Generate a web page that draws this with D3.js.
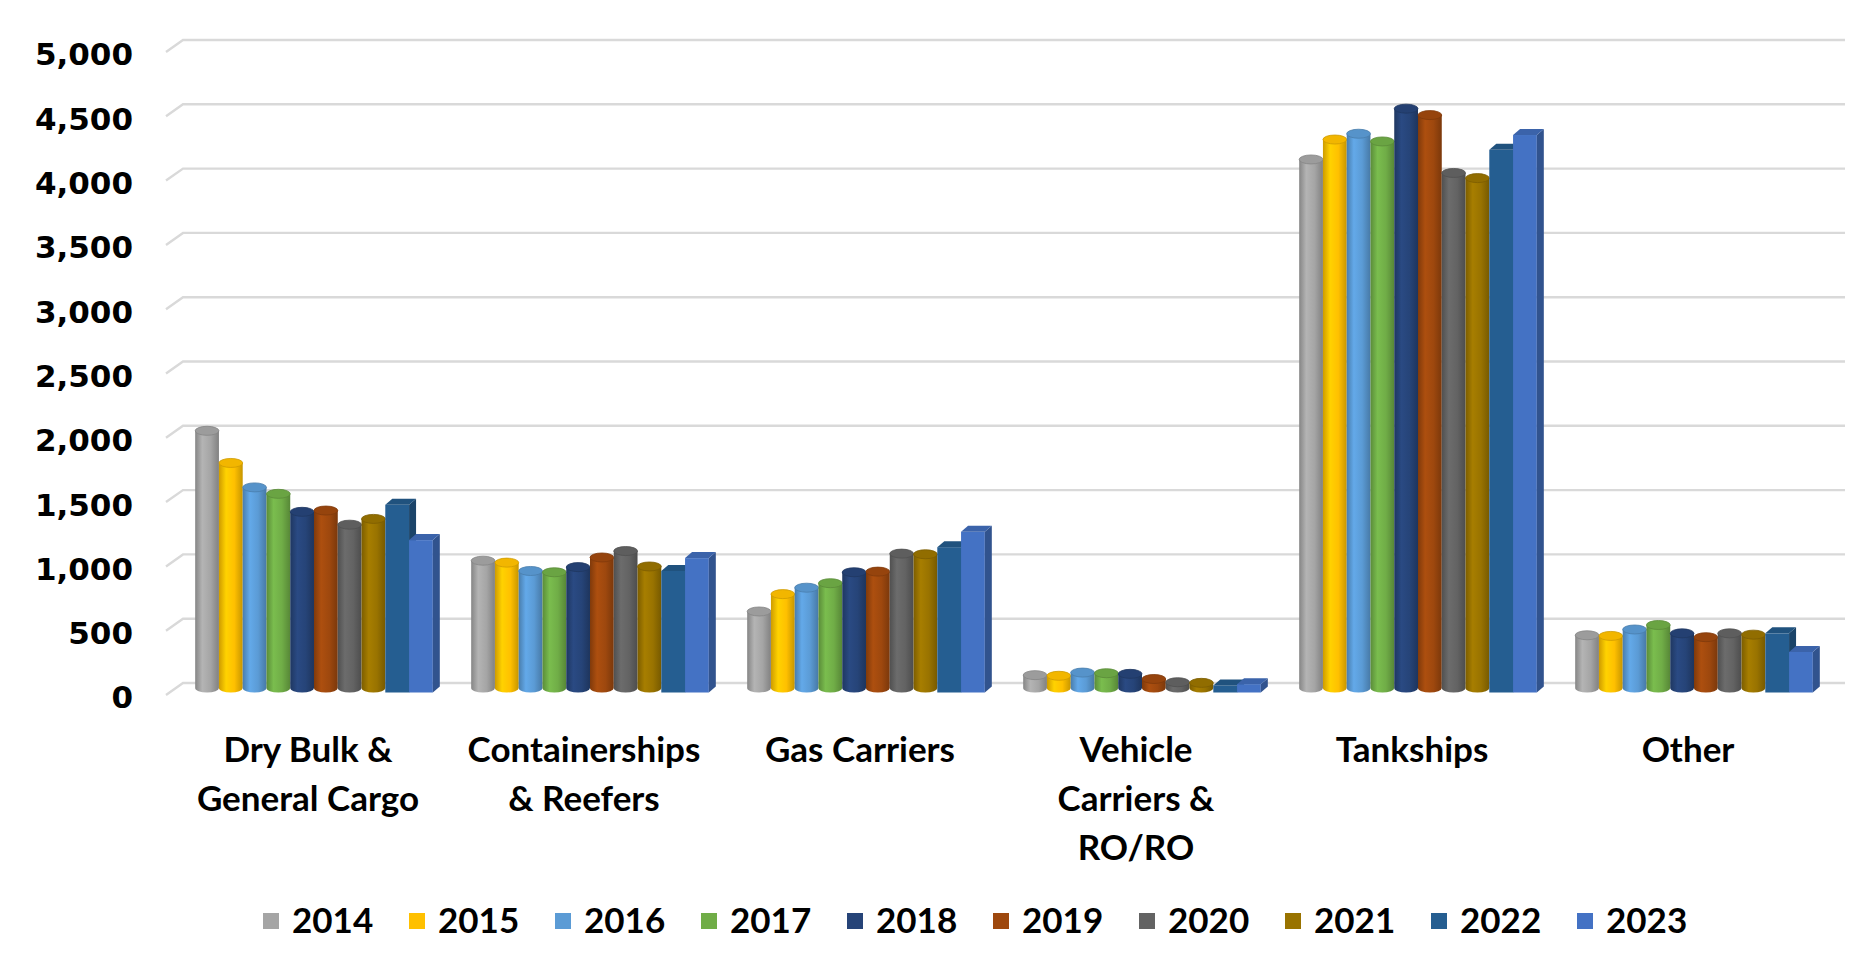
<!DOCTYPE html>
<html>
<head>
<meta charset="utf-8">
<script src="https://cdn.jsdelivr.net/npm/d3@7"></script>
<style>
	body { margin: 0; background: #fff; }
	svg { display: block; }
</style>
</head>
<body>
<svg id="chart"></svg>
<script>

// categories (label lines) and years
const categories = ["Dry Bulk & General Cargo", "Containerships & Reefers", "Gas Carriers", "Vehicle Carriers & RO/RO", "Tankships", "Other"];
const categoryLines = [["Dry Bulk &", "General Cargo"], ["Containerships", "& Reefers"], ["Gas Carriers"], ["Vehicle", "Carriers &", "RO/RO"], ["Tankships"], ["Other"]];
const years = ["2014", "2015", "2016", "2017", "2018", "2019", "2020", "2021", "2022", "2023"];
const colors = ["#A5A5A5", "#FFC000", "#5B9BD5", "#70AD47", "#264478", "#9E480E", "#636363", "#997300", "#255E91", "#4472C4"];
const boxYears = ["2022", "2023"];   // drawn as boxes, the rest as cylinders

// values per category, 2014..2023
const dryBulk    = [2000, 1750, 1560, 1510, 1370, 1380, 1270, 1315, 1460, 1185];
const containers = [990, 975, 910, 900, 940, 1015, 1065, 945, 945, 1045];
const gasCarriers = [595, 730, 780, 815, 900, 905, 1045, 1040, 1130, 1250];
const vehicle    = [100, 95, 120, 115, 110, 70, 45, 40, 55, 65];
const tankships  = [4110, 4265, 4310, 4250, 4505, 4455, 4005, 3965, 4220, 4335];
const other      = [410, 405, 455, 490, 425, 395, 425, 415, 460, 315];

const yTicks = [0, 500, 1000, 1500, 2000, 2500, 3000, 3500, 4000, 4500, 5000];

const seriesByCategory = [dryBulk, containers, gasCarriers, vehicle, tankships, other];

var width = 1855,
	height = 980;

var svg = d3.select("#chart")
	.attr("width", width)
	.attr("height", height);

// 3d offsets
const depthX = 17, depthY = 12;       // front edge -> back wall
const boxDX = 7, boxDY = 6;           // box depth

const x0 = d3.scaleBand()
	.domain(categories)
	.range([180, 1836])
	.paddingInner(0.11)
	.paddingOuter(0.055);

const x1 = d3.scaleBand()
	.domain(years)
	.range([0, x0.bandwidth() - 8]);

// bar axis (cylinder centre line), back wall and front edge scales
const yBar = d3.scaleLinear().domain([0, 5000]).range([688, 45]);
const yBack = d3.scaleLinear().domain([0, 5000]).range([683, 40]);
const yFront = d3.scaleLinear().domain([0, 5000]).range([698, 55]);

// gridlines on back wall, with the diagonal to the front
const grid = svg.append("g")
	.attr("stroke", "#d9d9d9")
	.attr("stroke-width", 2.4)
	.attr("fill", "none");

grid.selectAll("path")
	.data(yTicks)
	.join("path")
	.attr("d", d => `M${183 - depthX},${yBack(d) + depthY} L183,${yBack(d)} L1845,${yBack(d)}`);

// y axis labels
const yAxis = svg.append("g")
	.attr("transform", "translate(141,0)")
	.call(d3.axisLeft(yFront).tickValues(yTicks).tickFormat(d3.format(",")).tickSize(0).tickPadding(8));

yAxis.select(".domain").remove();
yAxis.selectAll("text")
	.attr("font-family", "'DejaVu Sans', Verdana, sans-serif")
	.attr("font-weight", "bold")
	.attr("font-size", 31)
	.attr("fill", "#000");

// gradients for cylinders
const defs = svg.append("defs");
colors.forEach((c, i) => {
	const base = d3.color(c);
	const g = defs.append("linearGradient")
		.attr("id", "cyl" + i)
		.attr("x1", "0%").attr("x2", "100%")
		.attr("y1", "0%").attr("y2", "0%");
	g.append("stop").attr("offset", "0%").attr("stop-color", base.darker(0.6));
	g.append("stop").attr("offset", "30%").attr("stop-color", base.brighter(0.25));
	g.append("stop").attr("offset", "65%").attr("stop-color", base);
	g.append("stop").attr("offset", "100%").attr("stop-color", base.darker(0.7));
});

const rows = categories.map((c, ci) => ({
	category: c,
	values: years.map((yr, yi) => ({ year: yr, index: yi, value: seriesByCategory[ci][yi] }))
}));

const groups = svg.append("g")
	.selectAll("g")
	.data(rows)
	.join("g")
	.attr("transform", d => `translate(${x0(d.category)},0)`);

groups.each(function(row) {
	const g = d3.select(this);
	row.values.forEach(d => {
		const w = x1.bandwidth();
		const x = x1(d.year);
		const c = d3.color(colors[d.index]);
		if (boxYears.includes(d.year)) {
			const top = yBar(d.value) + 4.5;
			const bottom = yBar(0) + 4.5;
			g.append("rect")
				.attr("x", x).attr("y", top)
				.attr("width", w).attr("height", bottom - top)
				.attr("fill", c);
			g.append("path")
				.attr("d", `M${x + w},${top} L${x + w + boxDX},${top - boxDY} L${x + w + boxDX},${bottom - boxDY} L${x + w},${bottom} Z`)
				.attr("fill", c.darker(0.9));
			g.append("path")
				.attr("d", `M${x},${top} L${x + boxDX},${top - boxDY} L${x + w + boxDX},${top - boxDY} L${x + w},${top} Z`)
				.attr("fill", c.darker(0.4));
		} else {
			const rx = w / 2, ry = 4.5;
			const top = yBar(d.value), bottom = yBar(0);
			g.append("path")
				.attr("d", `M${x},${top} L${x},${bottom} A${rx},${ry} 0 0 0 ${x + w},${bottom} L${x + w},${top} Z`)
				.attr("fill", `url(#cyl${d.index})`);
			g.append("ellipse")
				.attr("cx", x + rx).attr("cy", top)
				.attr("rx", rx).attr("ry", ry)
				.attr("fill", c.darker(0.15))
				.attr("stroke", c.darker(0.6))
				.attr("stroke-width", 0.8);
		}
	});
});

// category labels
const xAxis = svg.append("g")
	.attr("transform", "translate(-10,722)")
	.call(d3.axisBottom(x0).tickSize(0).tickFormat(""));

xAxis.select(".domain").remove();
xAxis.selectAll(".tick text").remove();
xAxis.selectAll(".tick")
	.append("text")
	.attr("text-anchor", "middle")
	.attr("font-family", "Lato, 'Open Sans', sans-serif")
	.attr("font-weight", "bold")
	.attr("font-size", 35)
	.attr("fill", "#000")
	.selectAll("tspan")
	.data(d => categoryLines[categories.indexOf(d)])
	.join("tspan")
	.attr("x", 0)
	.attr("y", (d, i) => 40 + i * 49)
	.text(d => d);

// legend
const legend = svg.append("g")
	.attr("transform", "translate(263,913)");

const item = legend.selectAll("g")
	.data(years)
	.join("g")
	.attr("transform", (d, i) => `translate(${i * 146},0)`);

item.append("rect")
	.attr("width", 16)
	.attr("height", 16)
	.attr("fill", (d, i) => colors[i]);

item.append("text")
	.attr("x", 29)
	.attr("y", 20)
	.attr("font-family", "Lato, 'Open Sans', sans-serif")
	.attr("font-weight", "bold")
	.attr("font-size", 35)
	.attr("fill", "#000")
	.text(d => d);

</script>
</body>
</html>
